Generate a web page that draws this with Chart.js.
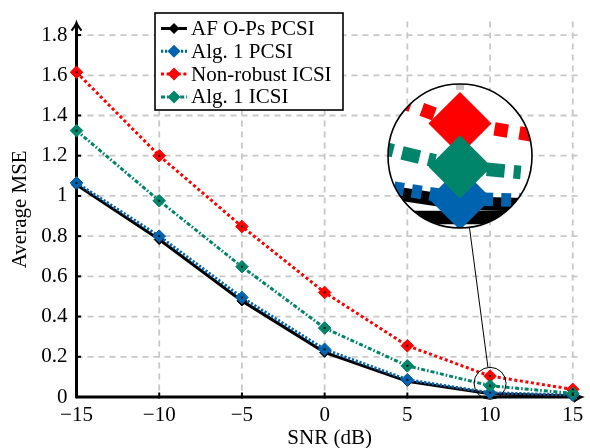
<!DOCTYPE html>
<html>
<head>
<meta charset="utf-8">
<script src="https://cdn.jsdelivr.net/npm/chart.js@4.4.1/dist/chart.umd.min.js"></script>
<style>
  html, body { margin: 0; padding: 0; background: #fff; }
</style>
</head>
<body>
<canvas id="myChart" width="590" height="448"></canvas>
<script>
const snr = [-15, -10, -5, 0, 5, 10, 15]
const af_pcsi = [1.055, 0.783, 0.478, 0.222, 0.078, 0.016, 0.005]
const alg1_pcsi = [1.065, 0.80, 0.495, 0.237, 0.086, 0.021, 0.010]
const nonrobust_icsi = [1.615, 1.20, 0.848, 0.52, 0.255, 0.104, 0.038]
const alg1_icsi = [1.325, 0.976, 0.648, 0.343, 0.155, 0.056, 0.018]

const x_ticks = [-15, -10, -5, 0, 5, 10, 15]
const y_ticks = [0, 0.2, 0.4, 0.6, 0.8, 1, 1.2, 1.4, 1.6, 1.8]
const legend_labels = ['AF O-Ps PCSI', 'Alg. 1 PCSI', 'Non-robust ICSI', 'Alg. 1 ICSI']

const serif = '"Liberation Serif", "DejaVu Serif", serif'
const toPoints = ys => snr.map((v, i) => ({ x: v, y: ys[i] }))

const makeSet = (label, ys, color, dash, radius, order) => ({
    label,
    data: toPoints(ys),
    borderColor: color,
    backgroundColor: color,
    pointBackgroundColor: color,
    pointBorderColor: color,
    borderWidth: 3,
    borderDash: dash,
    pointStyle: 'rectRot',
    pointRadius: radius,
    pointBorderWidth: 1,
    tension: 0,
    clip: false,
    order
})

const datasets = [
    makeSet(legend_labels[0], af_pcsi, '#000000', [], 5, 4),
    makeSet(legend_labels[1], alg1_pcsi, '#0063b0', [2.2, 1.8], 6.3, 3),
    makeSet(legend_labels[2], nonrobust_icsi, '#ff0000', [3, 2.6], 6.3, 2),
    makeSet(legend_labels[3], alg1_icsi, '#00846a', [4, 2, 1.6, 2], 6.3, 1)
]

const line = (ctx, x1, y1, x2, y2) => {
    ctx.beginPath()
    ctx.moveTo(x1, y1)
    ctx.lineTo(x2, y2)
    ctx.stroke()
}

const diamond = (ctx, x, y, r, color) => {
    ctx.beginPath()
    ctx.moveTo(x, y - r)
    ctx.lineTo(x + r, y)
    ctx.lineTo(x, y + r)
    ctx.lineTo(x - r, y)
    ctx.closePath()
    ctx.fillStyle = color
    ctx.fill()
}

// grid + axes, under the data
const drawGrid = (ctx, a, x, y, onlyX) => {
    ctx.strokeStyle = '#c8c8c8'
    ctx.lineWidth = 1.8
    ctx.setLineDash([6, 5])
    x_ticks.slice(1).forEach(v => {
        const px = x.getPixelForValue(v)
        line(ctx, px, a.top, px, a.bottom)
    })
    if (!onlyX) {
        y_ticks.slice(1).forEach(v => {
            const py = y.getPixelForValue(v)
            line(ctx, a.left, py, a.right, py)
        })
    }
    ctx.setLineDash([])
}

const background = {
    id: 'background',
    beforeDatasetsDraw(chart) {
        const { ctx, chartArea: a, scales: { x, y } } = chart
        ctx.save()
        drawGrid(ctx, a, x, y, false)

        ctx.strokeStyle = '#000'
        ctx.fillStyle = '#000'
        ctx.lineWidth = 3
        line(ctx, a.left, a.bottom, a.left, a.top + 3)
        line(ctx, a.left, a.bottom, a.right - 3, a.bottom)

        // arrow heads
        ctx.lineWidth = 2
        ctx.beginPath()
        ctx.moveTo(a.left - 5, a.top + 9)
        ctx.quadraticCurveTo(a.left - 1, a.top + 4, a.left, a.top + 1)
        ctx.quadraticCurveTo(a.left + 1, a.top + 4, a.left + 5, a.top + 9)
        ctx.stroke()
        ctx.beginPath()
        ctx.moveTo(a.right - 9, a.bottom - 5)
        ctx.quadraticCurveTo(a.right - 4, a.bottom - 1, a.right - 1, a.bottom)
        ctx.quadraticCurveTo(a.right - 4, a.bottom + 1, a.right - 9, a.bottom + 5)
        ctx.stroke()

        // tick marks
        x_ticks.forEach(v => {
            const px = x.getPixelForValue(v)
            ctx.fillRect(px - 1, a.bottom - 4.5, 2, 6)
        })
        y_ticks.forEach(v => {
            const py = y.getPixelForValue(v)
            ctx.fillRect(a.left - 1.5, py - 1, 6, 2)
        })
        ctx.restore()
    },
    afterDatasetsDraw(chart) {
        const { ctx } = chart
        ctx.save()
        ctx.fillStyle = '#111'
        for (let i = 1; i < chart.data.datasets.length; i++) {
            chart.getDatasetMeta(i).data.forEach(p => {
                ctx.fillRect(p.x - 1, p.y - 1, 2, 2)
            })
        }
        ctx.restore()
    }
}

const legendBox = {
    id: 'legendBox',
    afterDraw(chart) {
        const { ctx } = chart
        ctx.save()
        ctx.fillStyle = '#fff'
        ctx.fillRect(155, 13, 188, 97)
        ctx.strokeStyle = '#000'
        ctx.lineWidth = 1.6
        ctx.strokeRect(155, 13, 188, 97)

        ctx.font = '21px ' + serif
        ctx.textBaseline = 'middle'
        legend_labels.forEach((label, i) => {
            const ds = chart.data.datasets[i]
            const ry = 28.5 + i * 22.8
            ctx.strokeStyle = ds.borderColor
            ctx.lineWidth = 3
            ctx.setLineDash(ds.borderDash)
            line(ctx, 161, ry, 187, ry)
            ctx.setLineDash([])
            diamond(ctx, 174, ry, i === 0 ? 5.5 : 6.5, ds.borderColor)
            ctx.fillStyle = '#000'
            ctx.fillText(label, 191, ry + 1)
        })
        ctx.restore()
    }
}

// magnified inset around the 10 dB points
const magnifier = {
    id: 'magnifier',
    afterDraw(chart) {
        const { ctx, chartArea: a, scales: { x, y } } = chart
        const sx = x.getPixelForValue(10)
        const sy = y.getPixelForValue(0.068)
        const rs = 16
        const cx = 460, cy = 156, rd = 72
        const m = rd / rs

        ctx.save()
        ctx.beginPath()
        ctx.arc(cx, cy, rd, 0, Math.PI * 2)
        ctx.clip()
        ctx.fillStyle = '#fff'
        ctx.fillRect(cx - rd, cy - rd, 2 * rd, 2 * rd)
        ctx.translate(cx, cy)
        ctx.scale(m, m)
        ctx.translate(-sx, -sy)
        drawGrid(ctx, a, x, y, true)
        ctx.strokeStyle = '#000'
        ctx.lineWidth = 3
        line(ctx, a.left, a.bottom, a.right, a.bottom)
        for (let i = 0; i < chart.data.datasets.length; i++) {
            chart.getDatasetMeta(i).controller.draw()
        }
        ctx.restore()

        ctx.save()
        ctx.strokeStyle = '#000'
        ctx.lineWidth = 1.6
        ctx.beginPath()
        ctx.arc(cx, cy, rd, 0, Math.PI * 2)
        ctx.stroke()
        ctx.lineWidth = 1
        ctx.beginPath()
        ctx.arc(sx, sy, rs, 0, Math.PI * 2)
        ctx.stroke()
        const dx = sx - cx, dy = sy - cy
        const len = Math.hypot(dx, dy)
        const ux = dx / len, uy = dy / len
        line(ctx, cx + ux * rd, cy + uy * rd, sx - ux * rs, sy - uy * rs)
        ctx.restore()
    }
}

const tickFont = { family: serif, size: 21 }
const titleFont = { family: serif, size: 21 }

const config = {
    type: 'line',
    data: { datasets },
    options: {
        responsive: false,
        animation: false,
        devicePixelRatio: 1,
        layout: { padding: { left: 0, right: 2, top: 5, bottom: 0 } },
        plugins: {
            legend: { display: false },
            tooltip: { enabled: false }
        },
        scales: {
            x: {
                type: 'linear',
                min: -15,
                max: 15.6,
                afterBuildTicks: s => { s.ticks = x_ticks.map(v => ({ value: v })) },
                afterFit: s => { s.height = 51 },
                grid: { display: false, drawTicks: false },
                border: { display: false },
                ticks: {
                    autoSkip: false,
                    maxRotation: 0,
                    padding: 6,
                    color: '#000',
                    font: tickFont,
                    callback: v => v < 0 ? '\u2212' + (-v) : String(v)
                },
                title: {
                    display: true,
                    text: 'SNR (dB)',
                    color: '#000',
                    font: titleFont,
                    padding: { top: 0, bottom: -3 }
                }
            },
            y: {
                type: 'linear',
                min: 0,
                max: 1.867,
                afterBuildTicks: s => { s.ticks = y_ticks.map(v => ({ value: v })) },
                afterFit: s => { s.width = 76.5 },
                grid: { display: false, drawTicks: false },
                border: { display: false },
                ticks: {
                    autoSkip: false,
                    padding: 9,
                    color: '#000',
                    font: tickFont,
                    callback: v => String(+v.toFixed(1))
                },
                title: {
                    display: true,
                    text: 'Average MSE',
                    color: '#000',
                    font: titleFont,
                    padding: { top: 8, bottom: 0 }
                }
            }
        }
    },
    plugins: [background, legendBox, magnifier]
}

const myChart = new Chart(document.getElementById('myChart'), config)
</script>
</body>
</html>
